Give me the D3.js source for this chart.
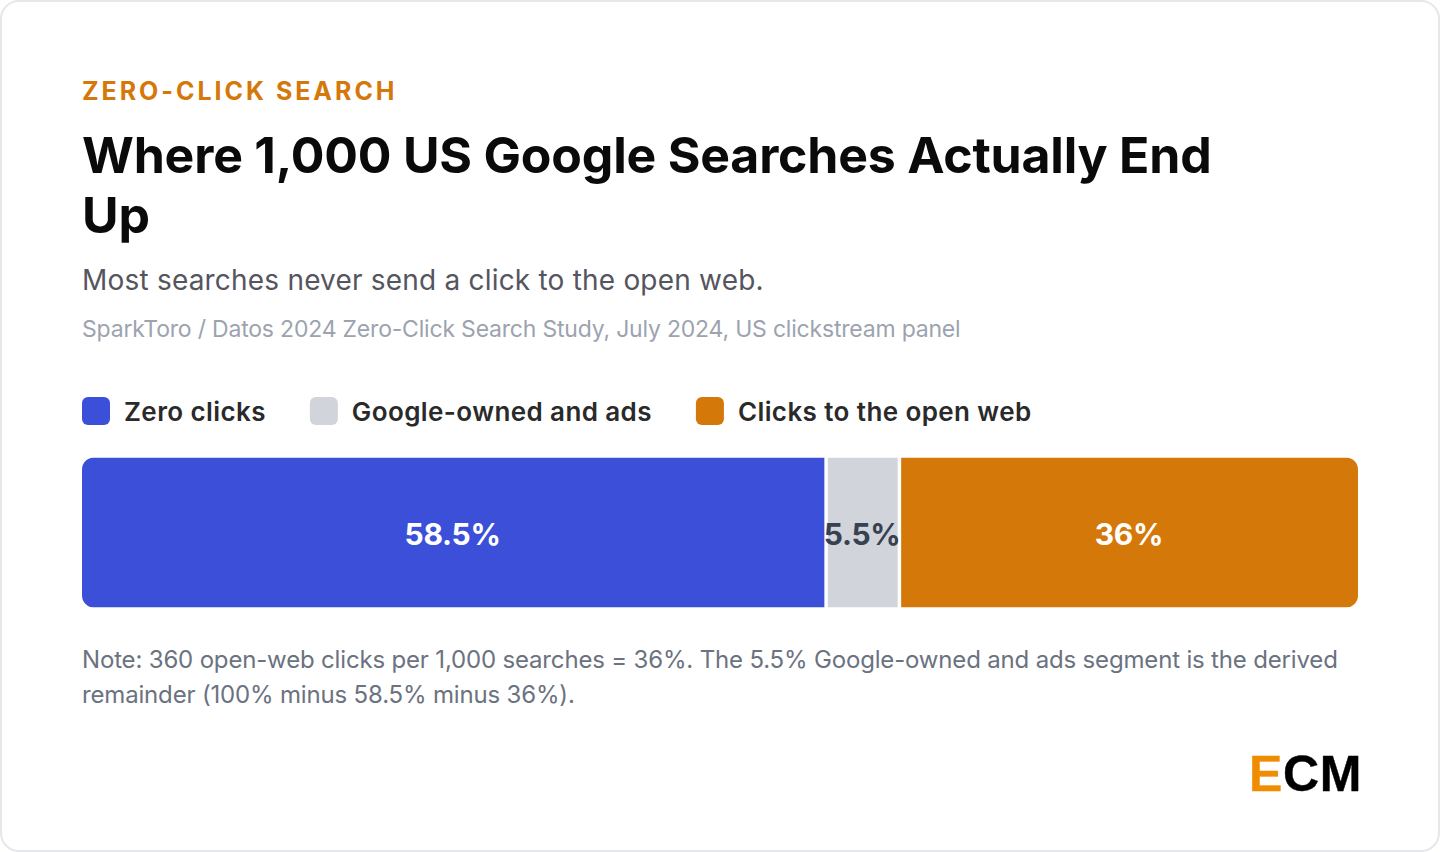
<!DOCTYPE html>
<html><head><meta charset="utf-8">
<script src="https://cdn.jsdelivr.net/npm/d3@7/dist/d3.min.js"></script>
<style>html,body{margin:0;padding:0;background:#fff}svg{display:block}text{font-family:Inter,sans-serif}</style>
</head><body><svg id="c" width="1440" height="852"></svg>
<script>
const categories=["Zero clicks","Google-owned and ads","Clicks to the open web"];
const values=[58.5,5.5,36];
const valueLabels=["58.5%","5.5%","36%"];
const colors=["#3b4fd8","#d1d5db","#d5780a"];
const labelColors=["#ffffff","#374151","#ffffff"];
const titleLines=["Where 1,000 US Google Searches Actually End","Up"];
const noteLines=["Note: 360 open-web clicks per 1,000 searches = 36%. The 5.5% Google-owned and ads segment is the derived","remainder (100% minus 58.5% minus 36%)."];

const svg=d3.select("#c");
svg.append("rect").attr("x",1).attr("y",1).attr("width",1438).attr("height",850).attr("rx",18).attr("fill","#fff").attr("stroke","#e5e7eb").attr("stroke-width",2);
const T=(x,y,s,size,w,fill,ls)=>{const t=svg.append("text").attr("x",x).attr("y",y).text(s).attr("font-size",size).attr("font-weight",w).attr("fill",fill);if(ls)t.attr("letter-spacing",ls);return t;};
T(82,100,"ZERO-CLICK SEARCH",25,700,"#d5780a",2.97);
titleLines.forEach((l,i)=>T(82,173+i*60,l,50,700,"#0a0a0a",-0.2));
T(82,290,"Most searches never send a click to the open web.",28,400,"#555560",0.2);
T(82,337,"SparkToro / Datos 2024 Zero-Click Search Study, July 2024, US clickstream panel",23,400,"#9ca3af",-0.2);

let lx=82;
categories.forEach((c,i)=>{
  svg.append("rect").attr("x",lx).attr("y",397).attr("width",28).attr("height",28).attr("rx",6).attr("fill",colors[i]);
  const t=T(lx+42,421,c,26,600,"#2a2a2a",0.4);
  lx+=42+t.node().getComputedTextLength()+44;
});

const gap=3.5,x0=82,x1=1358,y0=457.5,h=150,r=12;
const x=d3.scaleLinear().domain([0,d3.sum(values)]).range([0,x1-x0-gap*(values.length-1)]);
svg.append("defs").append("clipPath").attr("id","bar").append("rect").attr("x",x0).attr("y",y0).attr("width",x1-x0).attr("height",h).attr("rx",r);
const bars=svg.append("g").attr("clip-path","url(#bar)");
let cum=0;
values.forEach((v,i)=>{
  const bx=x0+x(cum)+gap*i,w=x(v);
  bars.append("rect").attr("x",bx).attr("y",y0).attr("width",w).attr("height",h).attr("fill",colors[i]);
  T(bx+w/2-0.6,545,valueLabels[i],30,700,labelColors[i],-0.3).attr("text-anchor","middle");
  cum+=v;
});
noteLines.forEach((l,i)=>T(82,668+i*35,l,24,400,"#6b7280",-0.17));
const logo=svg.append("text").attr("x",1249).attr("y",791).attr("font-size",50).attr("font-weight",700).attr("letter-spacing",0.6).attr("stroke-width",0.4).style("font-family","'Liberation Sans',Arial,sans-serif");
logo.append("tspan").attr("fill","#f08c00").attr("stroke","#f08c00").text("E");
logo.append("tspan").attr("fill","#000").attr("stroke","#000").text("CM");
</script></body></html>
